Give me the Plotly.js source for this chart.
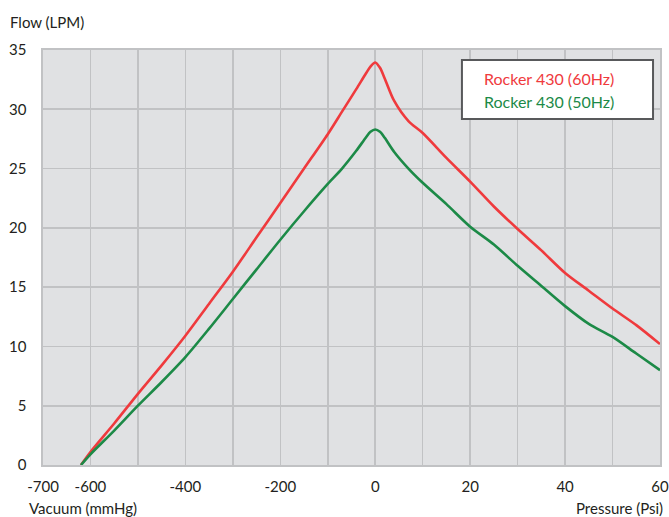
<!DOCTYPE html>
<html>
<head>
<meta charset="utf-8">
<script src="https://cdn.plot.ly/plotly-3.0.1.min.js"></script>
<style>html,body{margin:0;padding:0;background:#fff;}#chart{width:669px;height:517px;}</style>
</head>
<body>
<div id="chart"></div>
<script>
// x in chart units: negative side = vacuum (mmHg / 10), positive side = pressure (Psi)
const xPoints = [-62, -60, -55, -50, -45, -40, -35, -30, -25, -20, -15, -10, -7, -4, -2, -1, 0, 1, 2, 4, 7, 10, 15, 20, 25, 30, 35, 40, 45, 50, 55, 60];
const flow60Hz = [0, 1.1, 3.5, 6.0, 8.4, 10.9, 13.6, 16.3, 19.2, 22.1, 25.0, 27.9, 29.8, 31.7, 33.0, 33.6, 33.95, 33.5, 32.6, 30.7, 29.0, 28.0, 25.9, 23.9, 21.8, 19.9, 18.1, 16.2, 14.7, 13.2, 11.8, 10.2];
const flow50Hz = [0, 0.9, 2.9, 5.0, 7.0, 9.1, 11.5, 14.0, 16.5, 19.0, 21.4, 23.7, 25.0, 26.5, 27.6, 28.1, 28.3, 28.1, 27.6, 26.4, 25.0, 23.8, 22.0, 20.1, 18.6, 16.8, 15.1, 13.4, 11.9, 10.8, 9.4, 8.0];
const xTickVals = [-70, -60, -50, -40, -30, -20, -10, 0, 10, 20, 30, 40, 50, 60];
const xTickText = ["-700", "-600", "", "-400", "", "-200", "", "0", "", "20", "", "40", "", "60"];
const yTickVals = [0, 5, 10, 15, 20, 25, 30, 35];
const seriesNames = ["Rocker 430 (60Hz)", "Rocker 430 (50Hz)"];
const seriesColors = ["#ef3a3d", "#1c8a47"];

const FONT = "Lato, 'Open Sans', sans-serif";
const gridC = "#c1c2c4";
const txtC = "#231f20";

const traces = [
  {x: xPoints, y: flow60Hz, name: seriesNames[0], mode: "lines", line: {color: seriesColors[0], width: 2.6, shape: "spline", smoothing: 0.8}},
  {x: xPoints, y: flow50Hz, name: seriesNames[1], mode: "lines", line: {color: seriesColors[1], width: 2.6, shape: "spline", smoothing: 0.8}}
];

const layout = {
  width: 669, height: 517,
  margin: {l: 43, r: 9, t: 50, b: 52},
  paper_bgcolor: "#ffffff",
  plot_bgcolor: "#e0e1e3",
  showlegend: false,
  font: {family: FONT, size: 15, color: txtC},
  xaxis: {
    range: [-70, 60], tickmode: "array", tickvals: xTickVals, ticktext: xTickText,
    showgrid: true, gridcolor: gridC, gridwidth: 1.6, zeroline: false,
    showline: true, linecolor: gridC, linewidth: 1.6, mirror: true,
    ticks: "", ticklabelstandoff: 7, tickfont: {family: FONT, size: 15, color: txtC}
  },
  yaxis: {
    range: [0, 35], tickmode: "array", tickvals: yTickVals,
    showgrid: true, gridcolor: gridC, gridwidth: 1.6, zeroline: false,
    showline: true, linecolor: gridC, linewidth: 1.6, mirror: true,
    ticks: "", ticklabelstandoff: 12, tickfont: {family: FONT, size: 15, color: txtC}
  },
  shapes: [
    {type: "rect", xref: "paper", yref: "paper", x0: 0.679, x1: 0.9887, y0: 0.8337, y1: 0.9759,
     fillcolor: "#ffffff", line: {color: "#58595b", width: 2}}
  ],
  annotations: [
    {xref: "paper", yref: "paper", x: -0.0567, y: 1.0675, xanchor: "left", yanchor: "middle", text: "Flow (LPM)", showarrow: false, font: {family: FONT, size: 15, color: txtC}},
    {xref: "paper", yref: "paper", x: -0.026, y: -0.1036, xanchor: "left", yanchor: "middle", text: "Vacuum (mmHg)", showarrow: false, font: {family: FONT, size: 15, color: txtC}},
    {xref: "paper", yref: "paper", x: 1.008, y: -0.1036, xanchor: "right", yanchor: "middle", text: "Pressure (Psi)", showarrow: false, font: {family: FONT, size: 15, color: txtC}},
    {xref: "paper", yref: "paper", x: 0.7115, y: 0.9325, xanchor: "left", yanchor: "middle", text: seriesNames[0], showarrow: false, font: {family: FONT, size: 16, color: seriesColors[0]}},
    {xref: "paper", yref: "paper", x: 0.7115, y: 0.8747, xanchor: "left", yanchor: "middle", text: seriesNames[1], showarrow: false, font: {family: FONT, size: 16, color: seriesColors[1]}}
  ]
};

Plotly.newPlot("chart", traces, layout, {displayModeBar: false, staticPlot: true});
</script>
</body>
</html>
